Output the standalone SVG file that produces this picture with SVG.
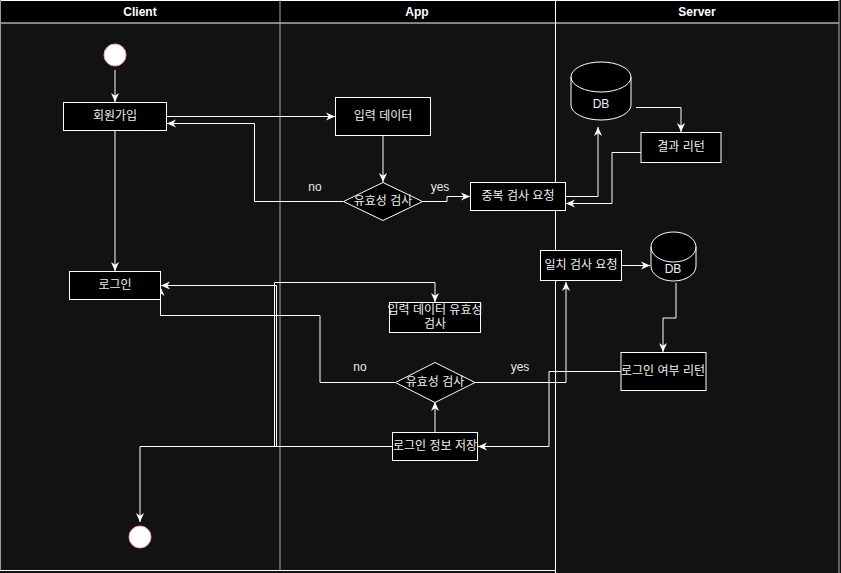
<svg xmlns="http://www.w3.org/2000/svg" width="841" height="573" viewBox="0 0 841 573">
<style>
.lane{fill:#121212}
.hdr{fill:#000}
.ht{font-family:"Liberation Sans","Noto Sans CJK KR",sans-serif;font-size:12px;font-weight:bold;fill:#fff;text-anchor:middle;dominant-baseline:central}
.box{fill:#000;stroke:#fff;stroke-width:1}
.t{font-family:"Liberation Sans","Noto Sans CJK KR",sans-serif;font-size:12px;fill:#f0f0f0;text-anchor:middle;dominant-baseline:central}
.lbl{font-family:"Liberation Sans","Noto Sans CJK KR",sans-serif;font-size:12px;fill:#e8e8e8;text-anchor:middle;dominant-baseline:central}
.e{fill:none;stroke:#fff;stroke-width:1;marker-end:url(#arr)}
.circ{fill:#fff;stroke:#f4a3a3;stroke-width:1}
</style>
<defs>
<marker id="arr" viewBox="0 0 10 10" refX="10" refY="5" markerWidth="9" markerHeight="9" markerUnits="userSpaceOnUse" orient="auto">
<path d="M0,0.5 L10,5 L0,9.5 L3,5 Z" fill="#fff"/>
</marker>
</defs>
<g id="lanes">
<rect class="lane" x="0" y="0" width="841" height="573"/>
<rect class="hdr" x="0.5" y="0.5" width="838.5" height="22.5"/>
<line x1="0" y1="0.5" x2="839" y2="0.5" stroke="#fff"/>
<line x1="0" y1="23" x2="839" y2="23" stroke="#fff"/>
<line x1="0.5" y1="0" x2="0.5" y2="570" stroke="#999"/>
<line x1="280" y1="0" x2="280" y2="570" stroke="#aaa"/>
<line x1="555.5" y1="0" x2="555.5" y2="573" stroke="#fff"/>
<line x1="839" y1="0" x2="839" y2="573" stroke="#aaa"/>
<line x1="0" y1="570.5" x2="555" y2="570.5" stroke="#fff"/>
<text class="ht" x="140" y="12">Client</text>
<text class="ht" x="417" y="12">App</text>
<text class="ht" x="697" y="12">Server</text>
</g>
<g id="connectors">
<path class="e" d="M115,70 V102"/>
<path class="e" d="M166.5,116.5 H335"/>
<path class="e" d="M343,201.5 H254.5 V123.5 H167"/>
<path class="e" d="M383,136 V182"/>
<path class="e" d="M422,201.5 H447 V196.5 H470"/>
<path class="e" d="M565,196.5 H598 V127"/>
<path class="e" d="M636,107.5 H681 V132"/>
<path class="e" d="M641,152.5 H612 V203.5 H566"/>
<path class="e" d="M115,130 V271"/>
<path class="e" d="M392,446.5 H274.5 V282.5 H435 V302"/>
<path class="e" d="M392,446.5 H276.5 V285.5 H161"/>
<path class="e" d="M392,446.5 H140 V522"/>
<path class="e" d="M395,382.5 H320 V315.5 H160.5 V287"/>
<path class="e" d="M435,432 V402"/>
<path class="e" d="M475,382.5 H566 V282"/>
<path class="e" d="M621,265.5 H650"/>
<path class="e" d="M676,283 V318 H663 V352"/>
<path class="e" d="M621,371.5 H549 V446.5 H478"/>
<text class="lbl" x="315" y="187">no</text>
<text class="lbl" x="440" y="187">yes</text>
<text class="lbl" x="360" y="367">no</text>
<text class="lbl" x="520" y="367">yes</text>
</g>
<g id="start"><circle class="circ" cx="115" cy="55" r="11"/></g>
<g id="signup"><rect class="box" x="63.5" y="102.5" width="103" height="28"/><text class="t" x="115" y="116">회원가입</text></g>
<g id="input"><rect class="box" x="335.5" y="97.5" width="95" height="38"/><text class="t" x="383" y="116">입력 데이터</text></g>
<g id="check1"><polygon class="box" points="383,182.5 422.5,201.5 383,220.5 343.5,201.5"/><text class="t" x="383" y="201">유효성 검사</text></g>
<g id="dupreq"><rect class="box" x="470.5" y="182.5" width="95" height="28"/><text class="t" x="518" y="196">중복 검사 요청</text></g>
<g id="db1"><path class="box" d="M571,77 A30,15 0 0 1 631,77 V105 A30,15 0 0 1 571,105 Z"/><path fill="none" stroke="#fff" d="M571,77 A30,15 0 0 0 631,77"/><text class="t" x="601" y="104">DB</text></g>
<g id="result"><rect class="box" x="641" y="132.5" width="80" height="30"/><text class="t" x="681" y="147">결과 리턴</text></g>
<g id="login"><rect class="box" x="69.5" y="271.5" width="91" height="28"/><text class="t" x="115" y="285">로그인</text></g>
<g id="inputcheck"><rect class="box" x="389.5" y="302.5" width="91" height="30"/><text class="t" x="435" y="310">입력 데이터 유효성</text><text class="t" x="435" y="324">검사</text></g>
<g id="check2"><polygon class="box" points="435,362.5 475,382.5 435,402.5 395.5,382.5"/><text class="t" x="435" y="382">유효성 검사</text></g>
<g id="save"><rect class="box" x="392.5" y="432.5" width="85" height="28"/><text class="t" x="435" y="446">로그인 정보 저장</text></g>
<g id="matchreq"><rect class="box" x="540.5" y="250.5" width="81" height="30"/><text class="t" x="581" y="265">일치 검사 요청</text></g>
<g id="db2"><path class="box" d="M651,247 A22.5,15 0 0 1 696,247 V266 A22.5,15 0 0 1 651,266 Z"/><path fill="none" stroke="#fff" d="M651,247 A22.5,15 0 0 0 696,247"/><text class="t" x="673" y="269">DB</text></g>
<g id="loginresult"><rect class="box" x="621" y="352.5" width="85" height="38"/><text class="t" x="663" y="371">로그인 여부 리턴</text></g>
<g id="end"><circle class="circ" cx="140" cy="537" r="11"/></g>
</svg>
